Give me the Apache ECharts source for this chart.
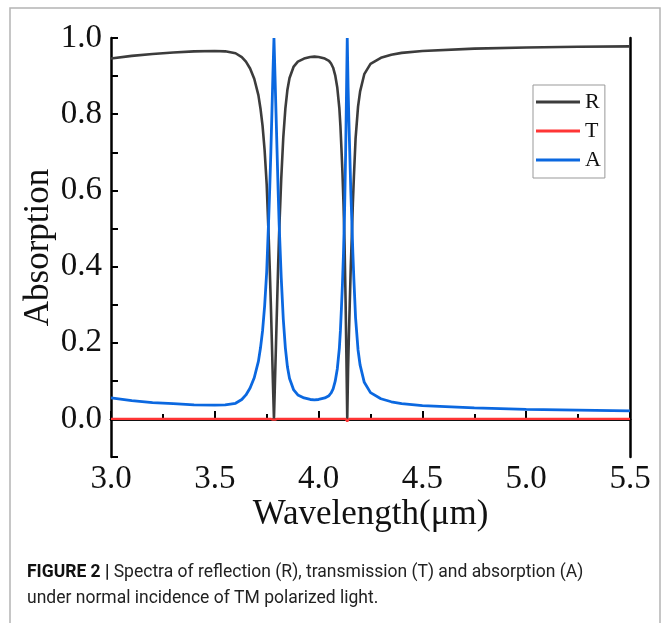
<!DOCTYPE html>
<html><head><meta charset="utf-8">
<script src="https://cdn.jsdelivr.net/npm/echarts@6/dist/echarts.min.js"></script>
<style>html,body{margin:0;padding:0;background:#fff;}#c{width:663px;height:623px;}</style>
</head><body><div id="c"></div>
<script>
const wavelength = [3.00,3.10,3.20,3.30,3.40,3.50,3.55,3.60,3.63,3.65,3.67,3.69,3.71,3.72,3.73,3.74,3.75,3.76,3.765,3.77,3.775,3.78,3.785,3.79,3.795,3.80,3.805,3.81,3.82,3.83,3.84,3.85,3.86,3.88,3.90,3.93,3.96,3.98,4.00,4.03,4.05,4.06,4.07,4.08,4.09,4.10,4.105,4.11,4.115,4.12,4.125,4.13,4.134,4.138,4.142,4.146,4.15,4.155,4.16,4.165,4.17,4.178,4.19,4.20,4.22,4.25,4.30,4.35,4.40,4.50,4.75,5.00,5.25,5.50];
const reflection = [0.946,0.953,0.958,0.962,0.965,0.966,0.965,0.960,0.950,0.938,0.920,0.893,0.850,0.815,0.770,0.705,0.615,0.470,0.390,0.300,0.200,0.095,0.000,0.100,0.200,0.300,0.400,0.490,0.630,0.740,0.815,0.865,0.895,0.925,0.938,0.946,0.950,0.951,0.950,0.946,0.940,0.933,0.922,0.902,0.870,0.815,0.770,0.710,0.645,0.565,0.460,0.310,0.160,0.000,0.130,0.220,0.300,0.400,0.480,0.565,0.635,0.735,0.820,0.860,0.905,0.932,0.948,0.956,0.961,0.966,0.972,0.975,0.977,0.978];
const transmission = [0,0,0,0,0,0,0,0,0,0,0,0,0,0,0,0,0,0,0,0,0,-0.002,-0.006,-0.002,0,0,0,0,0,0,0,0,0,0,0,0,0,0,0,0,0,0,0,0,0,0,0,0,0,0,0,0,-0.002,-0.006,-0.002,0,0,0,0,0,0,0,0,0,0,0,0,0,0,0,0,0,0,0];
const absorption = [0.055,0.048,0.043,0.040,0.037,0.036,0.037,0.041,0.051,0.063,0.081,0.108,0.151,0.186,0.231,0.296,0.386,0.531,0.611,0.701,0.801,0.906,1.000,0.901,0.801,0.701,0.601,0.511,0.371,0.261,0.186,0.136,0.106,0.076,0.063,0.055,0.051,0.050,0.051,0.055,0.061,0.068,0.079,0.099,0.131,0.186,0.231,0.291,0.356,0.436,0.541,0.691,0.841,1.000,0.871,0.781,0.701,0.601,0.521,0.436,0.366,0.266,0.181,0.141,0.096,0.069,0.053,0.045,0.040,0.035,0.029,0.025,0.023,0.021];
const seriesNames = ['R','T','A'];
const seriesColors = ['#3c3c3c','#ff3535','#0b68e0'];
const xTicks = [3.0,3.5,4.0,4.5,5.0,5.5];
const yTicks = [0.0,0.2,0.4,0.6,0.8,1.0];
const captionBold = 'FIGURE 2 |';
const captionLine1 = ' Spectra of reflection (R), transmission (T) and absorption (A)';
const captionLine2 = 'under normal incidence of TM polarized light.';

const serif = '"Liberation Serif","Times New Roman",serif';
const sans = 'Roboto,"Liberation Sans",sans-serif';
const pairs = arr => wavelength.map((w,i)=>[w,arr[i]]);
const dataSets = [reflection, transmission, absorption];
const widths = [2.6, 2.4, 2.8];

const chart = echarts.init(document.getElementById('c'), null, {renderer:'canvas'});
chart.setOption({
  animation:false,
  backgroundColor:'#fff',
  grid:{left:111,right:33,top:38,bottom:166},
  legend:{
    orient:'vertical', left:533, top:85,
    itemWidth:44, itemHeight:3, itemGap:7,
    borderColor:'#999', borderWidth:1, padding:[6,4,7,3],
    textStyle:{fontFamily:serif,fontSize:22,color:'#111',lineHeight:22},
    data:seriesNames.map(n=>({name:n,icon:'rect'}))
  },
  xAxis:[{
    type:'value', min:3, max:5.5, interval:0.5,
    axisLine:{lineStyle:{color:'#000',width:2.5}},
    axisTick:{inside:true,length:8,lineStyle:{color:'#000',width:2}},
    minorTick:{show:true,splitNumber:2,length:5,lineStyle:{color:'#000',width:2}},
    splitLine:{show:false},
    axisLabel:{fontFamily:serif,fontSize:33,color:'#111',margin:6,
      formatter:v=>{const t=xTicks.find(k=>Math.abs(k-v)<1e-6);return t===undefined?'':t.toFixed(1);}},
    name:'Wavelength(μm)', nameLocation:'middle', nameGap:40, nameMoveOverlap:false,
    nameTextStyle:{fontFamily:serif,fontSize:35,color:'#111'}
  },{
    type:'value', min:3, max:5.5, position:'top',
    axisLine:{show:true,lineStyle:{color:'#000',width:2.5}},
    axisTick:{show:false}, axisLabel:{show:false}, splitLine:{show:false}
  }],
  yAxis:[{
    type:'value', min:-0.1, max:1.0, interval:0.1,
    axisLine:{show:true,lineStyle:{color:'#000',width:2.5}},
    axisTick:{inside:true,length:7,lineStyle:{color:'#000',width:2}},
    splitLine:{show:false},
    axisLabel:{fontFamily:serif,fontSize:33,color:'#111',margin:9,
      formatter:v=>{const t=yTicks.find(k=>Math.abs(k-v)<1e-6);return t===undefined?'':t.toFixed(1);}},
    name:'Absorption', nameLocation:'middle', nameGap:55, nameMoveOverlap:false,
    nameTextStyle:{fontFamily:serif,fontSize:35,color:'#111'}
  },{
    type:'value', min:-0.1, max:1.0, position:'right',
    axisLine:{show:true,lineStyle:{color:'#000',width:2.5}},
    axisTick:{show:false}, axisLabel:{show:false}, splitLine:{show:false}
  }],
  series:seriesNames.map((n,i)=>({
    name:n, type:'line', data:pairs(dataSets[i]), showSymbol:false, symbol:'none',
    lineStyle:{color:seriesColors[i],width:widths[i]}, itemStyle:{color:seriesColors[i]},
    z: i===2?3:2, clip:true
  })),
  graphic:[
    {type:'rect',shape:{x:10,y:8,width:650,height:640},style:{fill:'none',stroke:'#b4b4b4',lineWidth:1.5},silent:true},
    {type:'text',left:27,top:564,style:{
      text:'{b|'+captionBold+'}{n|'+captionLine1+'}',
      rich:{b:{fontFamily:sans,fontWeight:'bold',fontSize:17.5,fill:'#111'},
            n:{fontFamily:sans,fontSize:17.5,fill:'#222'}}}},
    {type:'text',left:27,top:590,style:{text:captionLine2,
      fontFamily:sans,fontSize:17.5,fill:'#222'}}
  ]
});
</script></body></html>
